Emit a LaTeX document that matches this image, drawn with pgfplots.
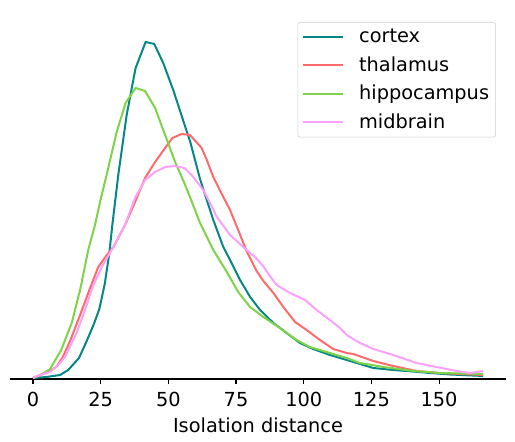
\documentclass[border=0pt]{standalone}
\usepackage{pgfplots}
\pgfplotsset{compat=1.18}
\usepackage{fontspec}
\setmainfont{DejaVu Sans}

\definecolor{cortexc}{HTML}{068787}
\definecolor{thalc}{HTML}{FF6B6B}
\definecolor{hippc}{HTML}{7ED348}
\definecolor{midc}{HTML}{FBA0FB}

\begin{document}
\begin{tikzpicture}[x=0.75pt,y=0.75pt]
\path[use as bounding box] (0,0) rectangle (515,442);
\begin{axis}[
    at={(7.5pt,47.25pt)}, anchor=south west,
    scale only axis,
    width=372pt, height=276.75pt,
    xmin=-8.5, xmax=174.73,
    ymin=0, ymax=369,
    axis x line*=bottom,
    axis y line=none,
    x axis line style={-, line width=0.8pt},
    xtick={0,25,...,150},
    ytick=\empty,
    tick align=outside,
    major tick length=3.6pt,
    every tick/.style={black, line width=0.8pt},
    /pgf/number format/assume math mode=true,
    ticklabel style={font=\fontsize{14.5}{17}\selectfont, yshift=-3pt},
    xlabel={Isolation distance},
    xlabel style={font=\fontsize{14.5}{17}\selectfont, yshift=-1.5pt},
    legend style={
        at={(0.9798,0.9675)}, anchor=north east,
        draw=black!20, rounded corners=2pt, fill=white,
        font=\fontsize{14.5}{17}\selectfont,
        cells={anchor=west},
        row sep=5pt, column sep=9.5pt,
        inner xsep=3pt, inner ysep=3pt,
    },
    legend image code/.code={\draw[#1, line width=1.5pt] (0pt,0pt) -- (30pt,0pt);},
    every axis plot/.append style={line width=1.5pt},
]
\addplot[cortexc] coordinates {
(0,1) (5,2) (10,4) (13,9) (17,21) (20,39) (22.5,55) (24.5,70) (26.5,95)
(28.2,126) (29.3,154) (31.5,204) (34.6,264) (37.9,311) (41.6,337) (44.8,335)
(48.1,316) (51.8,289) (55.9,255) (58,238) (61.7,200) (64.2,179) (66.6,159)
(70.3,132) (72.8,119) (76.5,99) (80.2,82) (83.9,69) (88.8,56) (93.7,46)
(98.6,36) (103.5,30) (109.7,24) (115.9,19) (120.8,15) (125.7,11) (133.1,9)
(138,8) (146.7,6) (154.1,4.5) (166.3,3)
};
\addlegendentry{cortex}
\addplot[thalc] coordinates {
(0,1) (2.6,4) (5.5,7) (8.6,12) (11,22) (13.7,38) (17.4,64) (21.1,91) (24.1,112)
(27,123) (29.7,132) (34,154) (37.7,177) (41.4,201) (45.1,217) (48.8,231)
(51.5,241) (54.9,245) (58,244) (62.3,231) (64.2,219) (66.6,202) (70.3,182)
(72.8,169) (75.8,149) (78.9,128) (82.6,108) (85.1,98) (88.8,86) (92.5,72)
(96.8,57) (101.1,49) (106,39) (110.9,30) (115.9,26) (118.3,25) (125.7,18)
(133.1,13) (141.7,8) (150.4,6) (158,5) (166.3,4)
};
\addlegendentry{thalamus}
\addplot[hippc] coordinates {
(0,1) (3,4) (6.3,10) (10.4,29) (14.3,56) (17.4,89) (20.4,129) (22.9,154)
(25,180) (27.2,204) (30.9,247) (34.2,276) (37.9,291) (41.4,288) (45.1,271)
(48.8,244) (52.5,217) (55.9,196) (58,182) (61.7,156) (66.6,129) (71.6,107)
(75.8,87) (80.2,72) (85.1,62) (91.2,51) (97.4,39) (102.3,32) (109.7,26)
(115.9,21) (120.8,16) (129.4,12) (140.5,8) (150.4,6) (166.3,5)
};
\addlegendentry{hippocampus}
\addplot[midc] coordinates {
(0,1) (2.6,4) (6.3,7) (9,13) (11.8,22) (16.1,46) (19.2,69) (22.3,94) (25.4,112)
(29.7,132) (34,154) (37.7,181) (41.4,199) (45.1,207) (48.8,212) (52.5,213)
(55.9,211) (58.6,204) (62.9,189) (65.4,176) (67.9,162) (72.8,144) (78.9,129)
(82,122) (85,113) (87.5,103) (90,94) (94.9,86) (100.5,79) (104.8,69)
(109.7,59) (113.4,51) (115.9,44) (120.8,36) (125.7,30) (133.1,24) (141.7,16)
(149.1,12) (156.5,8) (161.4,6) (166.3,8)
};
\addlegendentry{midbrain}
\end{axis}
\end{tikzpicture}
\end{document}
